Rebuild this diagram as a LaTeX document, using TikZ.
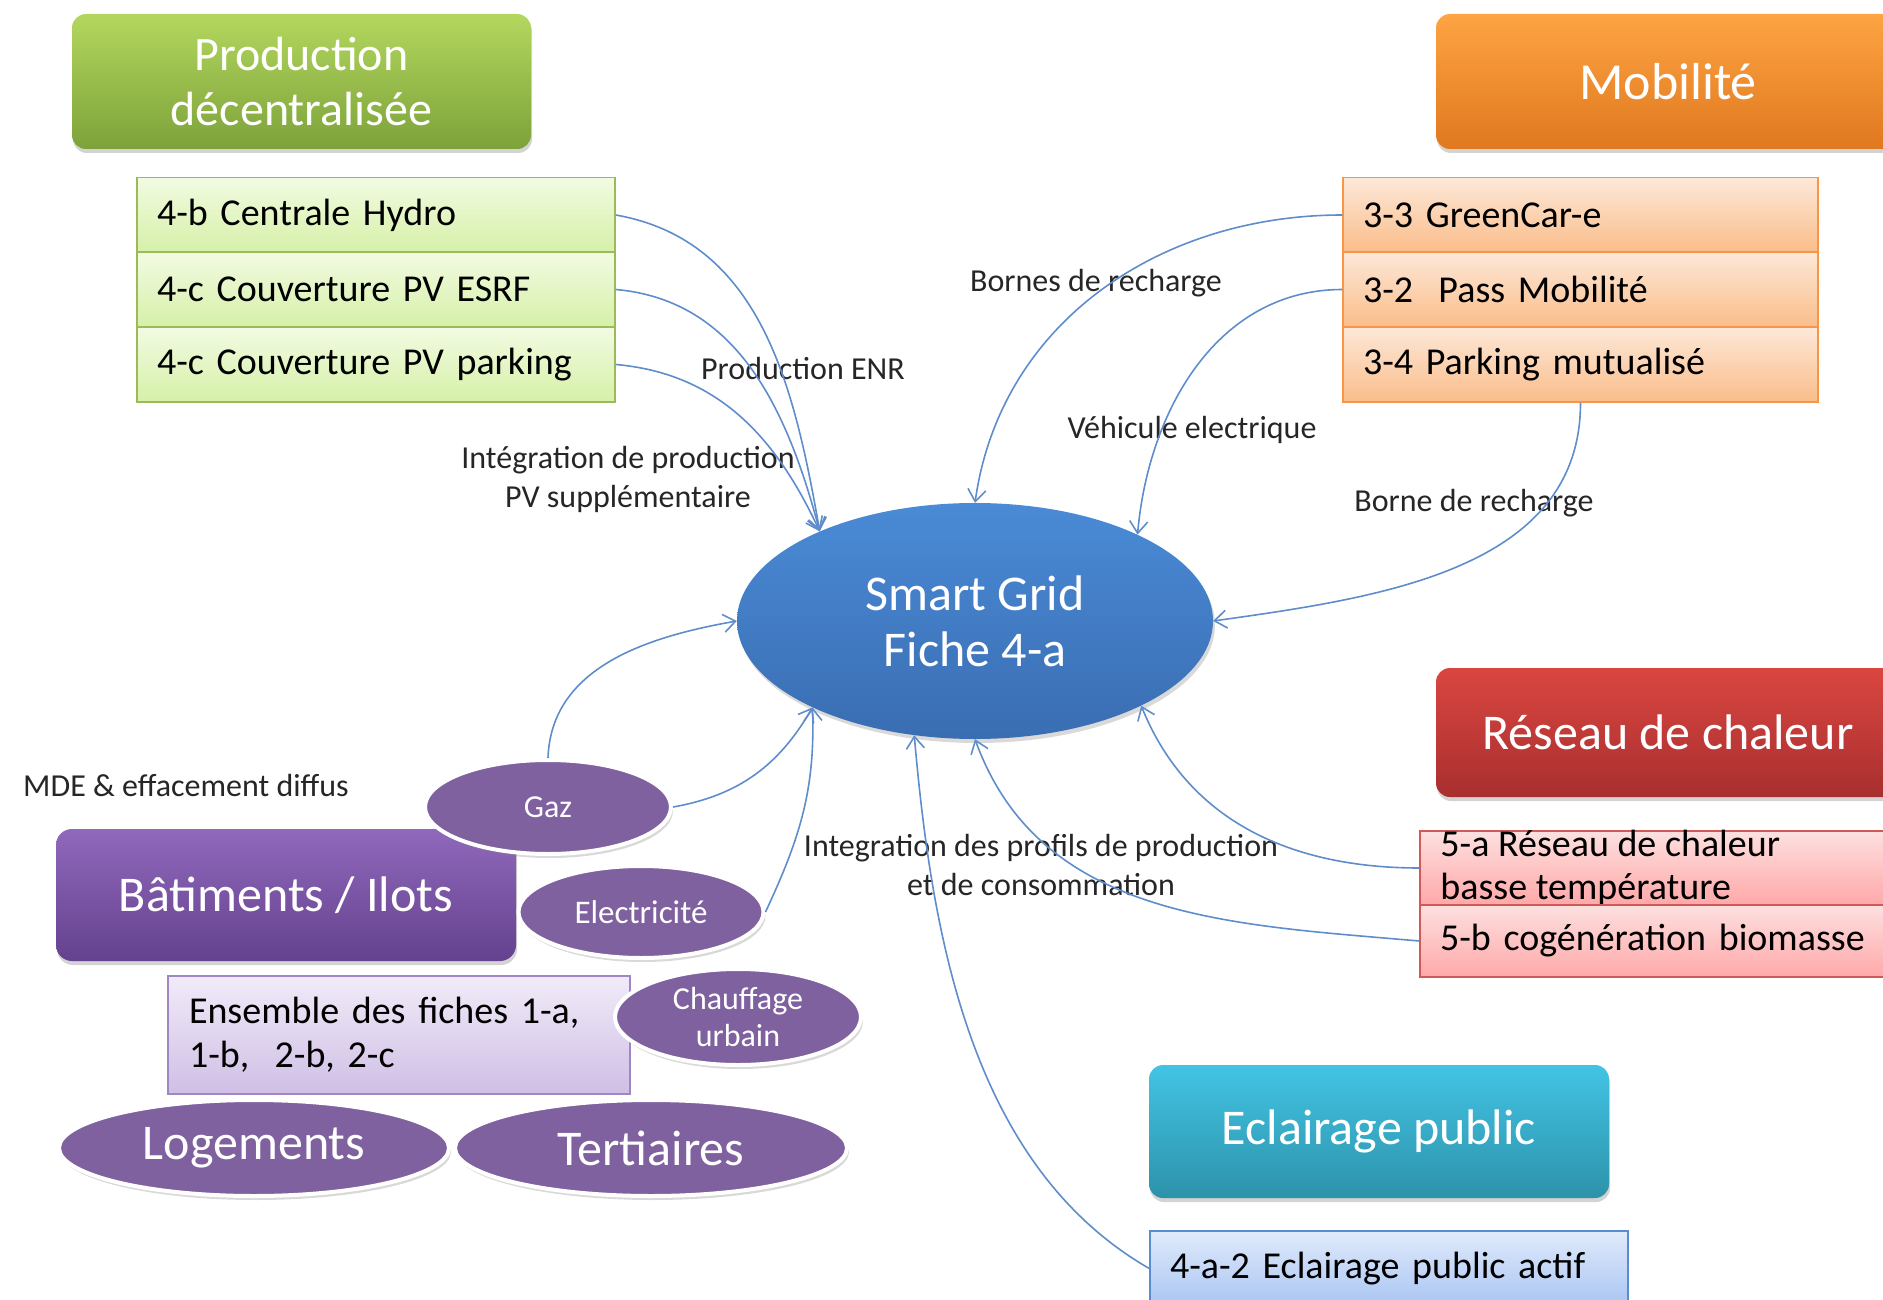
\documentclass[tikz,border=0pt]{standalone}
\usepackage{fontspec}
\setmainfont{Carlito}
\usetikzlibrary{arrows.meta,shapes.geometric,shadows}

\definecolor{prodtop}{HTML}{B3D75E}
\definecolor{prodbot}{HTML}{7DA23A}
\definecolor{greentop}{HTML}{F2FBE2}
\definecolor{greenbot}{HTML}{D6F0A8}
\definecolor{greenedge}{HTML}{9BBB59}
\definecolor{mobtop}{HTML}{FDA443}
\definecolor{mobbot}{HTML}{E0781F}
\definecolor{orangetop}{HTML}{FDE8D8}
\definecolor{orangebot}{HTML}{FABD8A}
\definecolor{orangeedge}{HTML}{F79646}
\definecolor{gridtop}{HTML}{4A8BD6}
\definecolor{gridbot}{HTML}{3A6DB2}
\definecolor{heattop}{HTML}{DA4640}
\definecolor{heatbot}{HTML}{A82F2F}
\definecolor{redtop}{HTML}{FDE0E0}
\definecolor{redbot}{HTML}{FFA8A8}
\definecolor{rededge}{HTML}{D05A5A}
\definecolor{lighttop}{HTML}{42C4E4}
\definecolor{lightbot}{HTML}{2D92AA}
\definecolor{bluetop}{HTML}{E0EAFB}
\definecolor{bluebot}{HTML}{AAC5F3}
\definecolor{blueedge}{HTML}{5B8BD0}
\definecolor{battop}{HTML}{9068BC}
\definecolor{batbot}{HTML}{64428E}
\definecolor{bubble}{HTML}{7F619F}
\definecolor{settop}{HTML}{F1EBF8}
\definecolor{setbot}{HTML}{CFBFE5}
\definecolor{setedge}{HTML}{9F86C4}
\definecolor{linkblue}{HTML}{5F8DCB}

\tikzset{
  titlebox/.style={rounded corners=14pt, text=white, align=center, inner sep=0pt,
    drop shadow={opacity=0.35, shadow xshift=1pt, shadow yshift=-4pt}},
  rowbox/.style={draw, line width=1.5pt, inner xsep=20pt, inner ysep=0pt,
    align=left, font=\fontsize{38}{43}\selectfont},
  greenrow/.style={rowbox, draw=greenedge, top color=greentop, bottom color=greenbot,
    minimum width=478pt, text width=438pt, minimum height=75pt},
  orangerow/.style={rowbox, draw=orangeedge, top color=orangetop, bottom color=orangebot,
    minimum width=475pt, text width=435pt, minimum height=75pt},
  redrow/.style={rowbox, draw=rededge, top color=redtop, bottom color=redbot,
    minimum width=480pt, text width=440pt},
  bluerow/.style={rowbox, draw=blueedge, top color=bluetop, bottom color=bluebot,
    minimum width=478pt, text width=438pt, minimum height=75pt},
  bubble/.style={ellipse, draw=white, line width=4pt, fill=bubble, text=white,
    inner sep=0pt, align=center,
    drop shadow={opacity=0.3, shadow xshift=2pt, shadow yshift=-4pt}},
  lbl/.style={text=black!85, align=center, font=\fontsize{32}{39}\selectfont},
  link/.style={draw=linkblue, line width=1.6pt, -{Straight Barb[length=12pt,width=18pt]}},
}

\begin{document}
\begin{tikzpicture}[x=1pt,y=1pt]
\useasboundingbox (0,0) rectangle (1883,-1300);

% production decentralisee
\node[titlebox, top color=prodtop, bottom color=prodbot, minimum width=459pt,
  minimum height=135pt, font=\fontsize{48}{55}\selectfont] (prod) at (301.5,-81.5)
  {Production\\décentralisée};
\node[greenrow] (hydro) at (376,-215) {4-b Centrale Hydro};
\node[greenrow] (esrf) at (376,-289.5) {4-c Couverture PV ESRF};
\node[greenrow] (pvpark) at (376,-364.5) {4-c Couverture PV parking};

% mobilite
\node[titlebox, top color=mobtop, bottom color=mobbot, minimum width=464pt,
  minimum height=135pt, font=\fontsize{52}{58}\selectfont] (mob) at (1668,-81.5) {Mobilité};
\node[orangerow] (green) at (1580.5,-215) {3-3 GreenCar-e};
\node[orangerow] (pass) at (1580.5,-289.5) {3-2\ \ Pass Mobilité};
\node[orangerow] (pvmut) at (1580.5,-364.5) {3-4 Parking mutualisé};

% smart grid
\node[ellipse, top color=gridtop, bottom color=gridbot, text=white, align=center,
  minimum width=476pt, minimum height=236pt, inner sep=0pt,
  font=\fontsize{50}{56}\selectfont,
  drop shadow={opacity=0.3, shadow xshift=2pt, shadow yshift=-4pt}] (smart) at (975,-621)
  {Smart Grid\\Fiche 4-a};

% reseau de chaleur
\node[titlebox, top color=heattop, bottom color=heatbot, minimum width=464pt,
  minimum height=129pt, font=\fontsize{50}{56}\selectfont] (heat) at (1668,-732.5)
  {Réseau de chaleur};
\node[redrow, minimum height=74pt] (r5a) at (1660,-868) {};
\node[text=black, align=left, anchor=west, inner sep=0pt, font=\fontsize{38}{43}\selectfont]
  (r5atxt) at ([xshift=21pt]r5a.west) {5-a Réseau de chaleur\\basse température};
\node[redrow, minimum height=72pt] (r5b) at (1660,-941) {5-b cogénération biomasse};

% eclairage public
\node[titlebox, top color=lighttop, bottom color=lightbot, minimum width=460pt,
  minimum height=133pt, font=\fontsize{50}{56}\selectfont] (light) at (1379,-1131.5)
  {Eclairage public};
\node[bluerow] (e4a2) at (1389,-1268.5) {4-a-2 Eclairage public actif};

% batiments / ilots
\node[titlebox, rounded corners=16pt, top color=battop, bottom color=batbot,
  minimum width=460pt, minimum height=132pt, font=\fontsize{50}{56}\selectfont]
  (bat) at (286,-895) {Bâtiments / Ilots};
\node[draw=setedge, line width=1.5pt, top color=settop, bottom color=setbot,
  minimum width=462pt, minimum height=118pt, text width=420pt, inner xsep=21pt,
  align=left, font=\fontsize{38}{44}\selectfont] (set) at (399,-1035)
  {Ensemble des fiches 1-a,\\1-b,\ \ 2-b, 2-c};
\node[bubble, minimum width=246pt, minimum height=94pt, font=\fontsize{32}{38}\selectfont]
  (gaz) at (548,-807) {Gaz};
\node[bubble, minimum width=245pt, minimum height=92pt, font=\fontsize{33}{38}\selectfont]
  (elec) at (641,-912) {Electricité};
\node[bubble, minimum width=246pt, minimum height=96pt, font=\fontsize{32}{38}\selectfont]
  (chauf) at (738,-1017) {Chauffage\\urbain};
\node[bubble, minimum width=390pt, minimum height=96pt, font=\fontsize{50}{56}\selectfont]
  (logem) at (254,-1148) {Logements};
\node[bubble, minimum width=392pt, minimum height=96pt, font=\fontsize{50}{56}\selectfont]
  (tert) at (651,-1148) {Tertiaires};

% labels
\node[lbl] (lenr) at (803,-369) {Production ENR};
\node[lbl] (lpv) at (628,-479) {Intégration de production\\PV supplémentaire};
\node[lbl] (lbornes) at (1096,-283) {Bornes de recharge};
\node[lbl] (lvehic) at (1192,-430) {Véhicule electrique};
\node[lbl] (lborne) at (1474,-503) {Borne de recharge};
\node[lbl] (lmde) at (186,-786) {MDE \& effacement diffus};
\node[lbl] (lprof) at (1041,-865) {Integration des profils de production\\et de consommation};

% connectors
\draw[link] (hydro.east) to[out=-10,in=100] (smart.150);
\draw[link] (esrf.east) to[out=-5,in=105] (smart.150);
\draw[link] (pvpark.east) to[out=-5,in=115] (smart.150);
\draw[link] (green.west) to[out=180,in=82] (smart.north);
\draw[link] (pass.west) to[out=180,in=85] (smart.28);
\draw[link] (pvmut.south) to[out=-90,in=8] (smart.east);
\draw[link] (r5a.west) to[out=180,in=-68] (smart.-27);
\draw[link] (r5b.west) to[out=175,in=-70] (smart.south);
\draw[link] (e4a2.west) to[out=150,in=-85,looseness=0.9] (smart.-118);
\draw[link] (elec.east) to[out=65,in=-88] (smart.-152);
\draw[link] (gaz.east) to[out=10,in=-120] (smart.-152);
\draw[link] (gaz.north) to[out=88,in=190] (smart.west);
\end{tikzpicture}
\end{document}
